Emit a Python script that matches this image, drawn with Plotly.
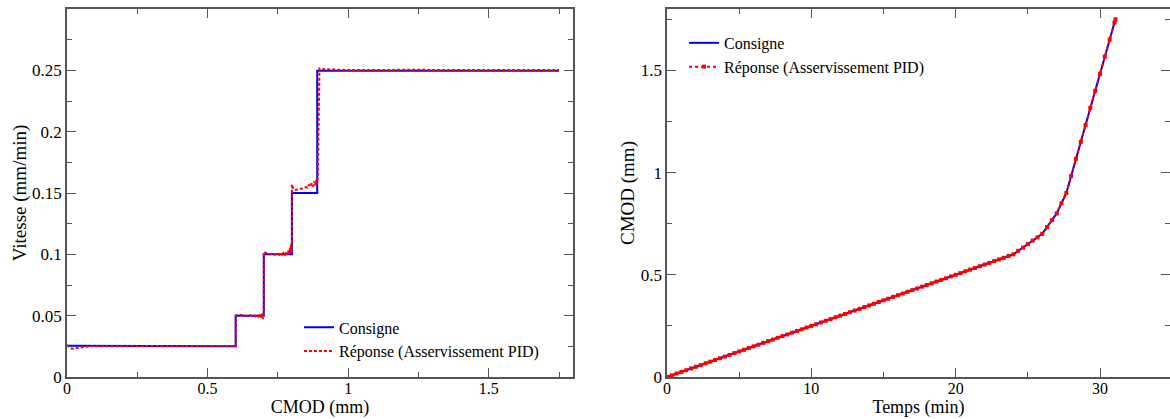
import plotly.graph_objects as go

# ---------------- Left panel: Vitesse vs CMOD ----------------
consigne_cmod = [0, 0.06, 0.06, 0.6, 0.6, 0.7, 0.7, 0.8, 0.8, 0.89, 0.89, 1.75]
consigne_vit = [0.0255, 0.0255, 0.025, 0.025, 0.05, 0.05, 0.1, 0.1, 0.15, 0.15, 0.2497, 0.2497]

rep_cmod = [0, 0.005, 0.012, 0.02, 0.03, 0.045, 0.06, 0.08, 0.1, 0.6,
            0.6, 0.61, 0.62, 0.63, 0.64, 0.65, 0.66, 0.665, 0.67, 0.675, 0.68, 0.683,
            0.686, 0.689, 0.692, 0.695, 0.697, 0.699, 0.7,
            0.7, 0.705, 0.71, 0.72, 0.73, 0.74, 0.75, 0.755, 0.76, 0.765, 0.77, 0.775,
            0.78, 0.783, 0.786, 0.789, 0.792, 0.794, 0.796, 0.798, 0.8,
            0.8, 0.802, 0.806, 0.81, 0.82, 0.83, 0.84, 0.85, 0.855, 0.86, 0.865, 0.87,
            0.875, 0.88, 0.883, 0.886, 0.889, 0.892,
            0.898, 0.91, 0.95, 1.0, 1.2, 1.4, 1.6, 1.75]
rep_vit = [0.026, 0.025, 0.0235, 0.023, 0.0235, 0.024, 0.0245, 0.025, 0.025, 0.025,
           0.05, 0.051, 0.0505, 0.0502, 0.0498, 0.0503, 0.0497, 0.0505, 0.0495, 0.0506, 0.0493, 0.0508,
           0.049, 0.0512, 0.0483, 0.0518, 0.0472, 0.0522, 0.05,
           0.102, 0.1015, 0.1005, 0.1, 0.1004, 0.0997, 0.1006, 0.0996, 0.1009, 0.0997, 0.1012, 0.0996,
           0.1018, 0.0997, 0.103, 0.0999, 0.105, 0.1003, 0.108, 0.1008, 0.109,
           0.157, 0.1555, 0.153, 0.1525, 0.1528, 0.1532, 0.154, 0.1548, 0.1543, 0.1567, 0.155, 0.1578,
           0.1553, 0.1595, 0.1562, 0.1608, 0.1568, 0.163,
           0.2515, 0.251, 0.2505, 0.2502, 0.2504, 0.2502, 0.2503, 0.2502]

vit_ticks = [0, 0.05, 0.1, 0.15, 0.2, 0.25]

# ---------------- Right panel: CMOD vs Temps ----------------
consigne_t = [0, 24, 26, 27, 27.67, 31.07]
consigne_c = [0, 0.6, 0.7, 0.8, 0.9, 1.75]

rep_t = [0.00, 0.33, 0.67, 1.00, 1.33, 1.67, 2.00, 2.33, 2.67, 3.00, 3.33, 3.67, 4.00, 4.33, 4.67,
         5.00, 5.33, 5.67, 6.00, 6.33, 6.67, 7.00, 7.33, 7.67, 8.00, 8.33, 8.67, 9.00, 9.33, 9.67,
         10.00, 10.33, 10.67, 11.00, 11.33, 11.67, 12.00, 12.33, 12.67, 13.00, 13.33, 13.67, 14.00,
         14.33, 14.67, 15.00, 15.33, 15.67, 16.00, 16.33, 16.67, 17.00, 17.33, 17.67, 18.00, 18.33,
         18.67, 19.00, 19.33, 19.67, 20.00, 20.33, 20.67, 21.00, 21.33, 21.67, 22.00, 22.33, 22.67,
         23.00, 23.33, 23.67, 24.00, 24.33, 24.67, 25.00, 25.33, 25.67, 26.00, 26.33, 26.67, 27.00,
         27.33, 27.67, 28.00, 28.33, 28.67, 29.00, 29.33, 29.67, 30.00, 30.33, 30.67, 31.00, 31.07]
rep_c = [0.000, 0.008, 0.017, 0.025, 0.033, 0.042, 0.050, 0.058, 0.067, 0.075, 0.083, 0.092, 0.100,
         0.108, 0.117, 0.125, 0.133, 0.142, 0.150, 0.158, 0.167, 0.175, 0.183, 0.192, 0.200, 0.208,
         0.217, 0.225, 0.233, 0.242, 0.250, 0.258, 0.267, 0.275, 0.283, 0.292, 0.300, 0.308, 0.317,
         0.325, 0.333, 0.342, 0.350, 0.358, 0.367, 0.375, 0.383, 0.392, 0.400, 0.408, 0.417, 0.425,
         0.433, 0.442, 0.450, 0.458, 0.467, 0.475, 0.483, 0.492, 0.500, 0.508, 0.517, 0.525, 0.533,
         0.542, 0.550, 0.558, 0.567, 0.575, 0.583, 0.592, 0.600, 0.617, 0.633, 0.650, 0.667, 0.683,
         0.700, 0.733, 0.767, 0.800, 0.850, 0.900, 0.983, 1.067, 1.150, 1.233, 1.317, 1.400, 1.483,
         1.567, 1.650, 1.733, 1.750]

BLUE = "#0000ff"
RED = "#ff0000"
FONT = "Liberation Serif, Times New Roman, serif"
AX = "#555555"

fig = go.Figure()
fig.add_trace(go.Scatter(x=consigne_cmod, y=consigne_vit, mode="lines", name="Consigne",
                         line=dict(color=BLUE, width=2), xaxis="x", yaxis="y", legend="legend"))
fig.add_trace(go.Scatter(x=rep_cmod, y=rep_vit, mode="lines", name="Réponse (Asservissement PID)",
                         line=dict(color=RED, width=2, dash="3px,2px"), xaxis="x", yaxis="y", legend="legend"))
fig.add_trace(go.Scatter(x=consigne_t, y=consigne_c, mode="lines", name="Consigne",
                         line=dict(color=BLUE, width=2), xaxis="x2", yaxis="y2", legend="legend2"))
fig.add_trace(go.Scatter(x=rep_t, y=rep_c, mode="lines+markers", name="Réponse (Asservissement PID)",
                         line=dict(color=RED, width=2, dash="dot"),
                         marker=dict(symbol="square", size=4, color=RED),
                         xaxis="x2", yaxis="y2", legend="legend2"))

def axis(**kw):
    d = dict(showgrid=False, zeroline=False, showline=True, linecolor=AX, linewidth=1.5,
             mirror="allticks", ticks="inside", ticklen=9, tickwidth=1.2, tickcolor=AX,
             automargin=False,
             tickfont=dict(family=FONT, size=17, color="black"),
             title_font=dict(family=FONT, size=19, color="black"))
    d.update(kw)
    return d

XTICKFONT = dict(family=FONT, size=16, color="black")
XTITLEFONT = dict(family=FONT, size=18, color="black")

fig.update_layout(
    width=1170, height=419,
    margin=dict(l=67, r=0, t=9, b=42),
    paper_bgcolor="white", plot_bgcolor="white",
    font=dict(family=FONT, color="black"),
    xaxis=axis(domain=[0, 0.4588], range=[0, 1.8], dtick=0.5, anchor="y", ticklabelstandoff=-4,
               tickfont=XTICKFONT, title_font=XTITLEFONT,
               minor=dict(dtick=0.25, ticklen=5, tickcolor=AX, ticks="inside"),
               title=dict(text="CMOD (mm)", standoff=3)),
    yaxis=axis(domain=[0, 1], range=[0, 0.3], tickvals=vit_ticks, anchor="x",
               minor=dict(dtick=0.025, ticklen=5, tickcolor=AX, ticks="inside"),
               title=dict(text="Vitesse (mm/min)", standoff=0)),
    xaxis2=axis(domain=[0.544, 1], range=[0, 34.85], dtick=10, anchor="y2", ticklabelstandoff=-4,
                tickfont=XTICKFONT, title_font=XTITLEFONT,
                minor=dict(dtick=5, ticklen=5, tickcolor=AX, ticks="inside"),
                title=dict(text="Temps (min)", standoff=3)),
    yaxis2=axis(domain=[0, 1], range=[0, 1.8], dtick=0.5, anchor="x2",
                minor=dict(dtick=0.25, ticklen=5, tickcolor=AX, ticks="inside"),
                title=dict(text="CMOD (mm)", standoff=1)),
    legend=dict(x=0.2103, y=0.181, xanchor="left", yanchor="top", bgcolor="rgba(0,0,0,0)",
                font=dict(family=FONT, size=16, color="black"), tracegroupgap=0),
    legend2=dict(x=0.5594, y=0.954, xanchor="left", yanchor="top", bgcolor="rgba(0,0,0,0)",
                 font=dict(family=FONT, size=16, color="black"), tracegroupgap=0),
)

fig.write_html("out.html", config={"displayModeBar": False},
               post_script="document.body.style.margin='0';document.body.style.overflow='hidden';")
